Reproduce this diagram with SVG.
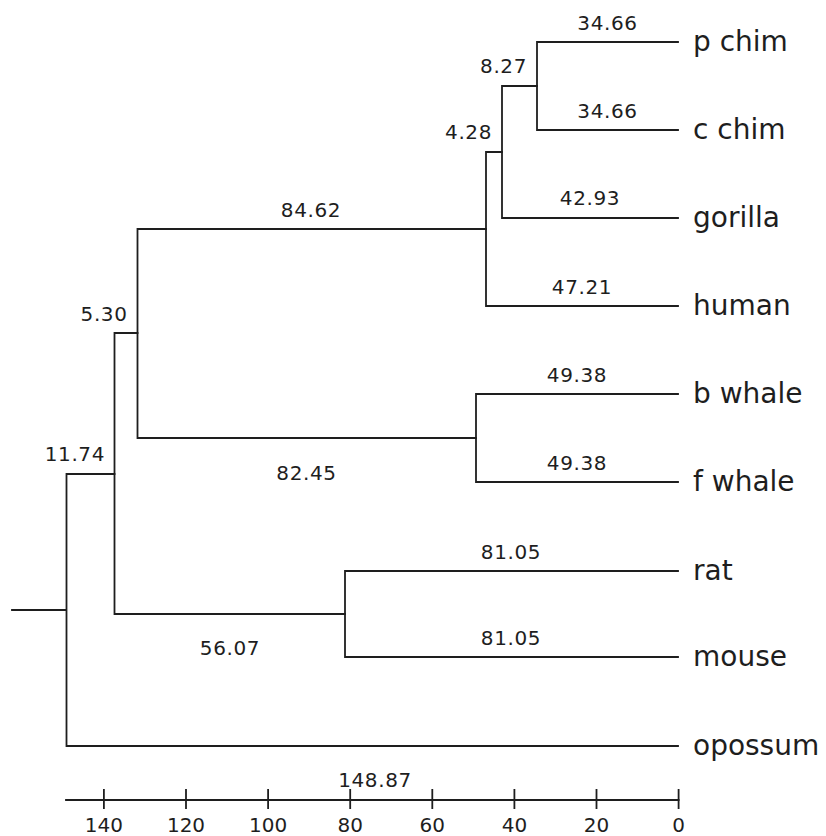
<svg xmlns="http://www.w3.org/2000/svg" width="826" height="836" viewBox="0 0 826 836">
  <style>
    .br { fill: none; stroke: #1e1e1e; stroke-width: 1.8; stroke-linecap: square; }
    .leaf { font-family: "DejaVu Sans", Verdana, sans-serif; font-size: 28px; fill: #1e1e1e; }
    .len { font-family: "DejaVu Sans", Verdana, sans-serif; font-size: 20px; fill: #1e1e1e; letter-spacing: 0.6px; }
    .mid { text-anchor: middle; }
    .end { text-anchor: end; }
    .tick { font-family: "DejaVu Sans", Verdana, sans-serif; font-size: 20px; fill: #1e1e1e; text-anchor: middle; }
  </style>
  <rect width="826" height="836" fill="#ffffff"/>

  <!-- tree branches (x = 678.6 - 4.105 * distance) -->
  <g id="connectors">
    <!-- root -->
    <path class="br" d="M12 610 H66.5 M66.5 474 V746 M66.5 474 H114.5 M66.5 746 H678"/>
    <!-- placental mammals -->
    <path class="br" d="M114.5 333 V614 M114.5 333 H137.5 M114.5 614 H345"/>
    <!-- primates + whales -->
    <path class="br" d="M137.5 229 V438 M137.5 229 H486 M137.5 438 H476"/>
    <!-- primates -->
    <path class="br" d="M486 152 V306 M486 152 H502 M486 306 H678"/>
    <path class="br" d="M502 86 V218 M502 86 H537 M502 218 H678"/>
    <path class="br" d="M537 42 V130 M537 42 H678 M537 130 H678"/>
    <!-- whales -->
    <path class="br" d="M476 394 V482 M476 394 H678 M476 482 H678"/>
    <!-- rodents -->
    <path class="br" d="M345 571 V657 M345 571 H678 M345 657 H678"/>
  </g>

  <!-- internal nodes with branch lengths -->
  <g id="node-chimps">
    <text class="len mid" x="607.5" y="30">34.66</text>
    <text class="len mid" x="607.5" y="118">34.66</text>
    <text class="len end" x="527" y="73">8.27</text>
  </g>
  <g id="node-gorilla-chimps">
    <text class="len mid" x="590" y="205">42.93</text>
    <text class="len end" x="492" y="139">4.28</text>
  </g>
  <g id="node-hominids">
    <text class="len mid" x="582" y="294">47.21</text>
    <text class="len mid" x="311" y="217">84.62</text>
  </g>
  <g id="node-whales">
    <text class="len mid" x="577" y="382">49.38</text>
    <text class="len mid" x="577" y="470">49.38</text>
    <text class="len mid" x="306.5" y="480">82.45</text>
  </g>
  <g id="node-primates-whales">
    <text class="len end" x="127.5" y="321">5.30</text>
  </g>
  <g id="node-rodents">
    <text class="len mid" x="511" y="559">81.05</text>
    <text class="len mid" x="511" y="645">81.05</text>
    <text class="len mid" x="230" y="655">56.07</text>
  </g>
  <g id="node-placentals">
    <text class="len end" x="105" y="461">11.74</text>
  </g>
  <g id="node-root">
    <text class="len mid" x="375" y="787">148.87</text>
  </g>

  <!-- leaves -->
  <g id="leaf-p-chim"><text class="leaf" x="693" y="51">p chim</text></g>
  <g id="leaf-c-chim"><text class="leaf" x="693" y="139">c chim</text></g>
  <g id="leaf-gorilla"><text class="leaf" x="693" y="227">gorilla</text></g>
  <g id="leaf-human"><text class="leaf" x="693" y="315">human</text></g>
  <g id="leaf-b-whale"><text class="leaf" x="693" y="403">b whale</text></g>
  <g id="leaf-f-whale"><text class="leaf" x="693" y="491">f whale</text></g>
  <g id="leaf-rat"><text class="leaf" x="693" y="580">rat</text></g>
  <g id="leaf-mouse"><text class="leaf" x="693" y="666">mouse</text></g>
  <g id="leaf-opossum"><text class="leaf" x="693" y="755">opossum</text></g>

  <!-- distance scale -->
  <g id="axis">
    <path class="br" d="M66 800 H678.6"/>
    <path class="br" d="M103.9 790 V808 M186 790 V808 M268.1 790 V808 M350.2 790 V808 M432.3 790 V808 M514.4 790 V808 M596.5 790 V808 M678.6 790 V808"/>
    <text class="tick" x="103.9" y="832">140</text>
    <text class="tick" x="186" y="832">120</text>
    <text class="tick" x="268.1" y="832">100</text>
    <text class="tick" x="350.2" y="832">80</text>
    <text class="tick" x="432.3" y="832">60</text>
    <text class="tick" x="514.4" y="832">40</text>
    <text class="tick" x="596.5" y="832">20</text>
    <text class="tick" x="678.6" y="832">0</text>
  </g>
</svg>
